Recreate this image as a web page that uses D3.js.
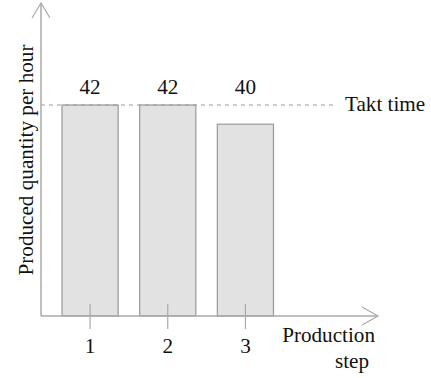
<!DOCTYPE html>
<html>
<head>
<meta charset="utf-8">
<script src="https://cdn.jsdelivr.net/npm/d3@7"></script>
<style>
html,body{margin:0;padding:0;background:#fff;}
svg{display:block;}
</style>
</head>
<body>
<svg id="chart" width="431" height="378"></svg>
<script>
const categories = ["1", "2", "3"];
const values = [42, 42, 40];
const taktTime = 42;
const yLabel = "Produced quantity per hour";
const xLabel = ["Production", "step"];
const taktLabel = "Takt time";

// pick first installed serif font
const ctx = document.createElement("canvas").getContext("2d");
function w(font, s) { ctx.font = "20px " + font; return ctx.measureText(s).width; }
const probe = "Produced quantity per hour mmmwwwiiilll";
const candidates = ["Liberation Serif", "DejaVu Serif", "Tinos", "Times New Roman", "Noto Serif", "FreeSerif", "Nimbus Roman", "Times"];
let chosen = null;
for (const c of candidates) {
  const a = w(`'${c}', monospace`, probe), b = w("monospace", probe);
  const a2 = w(`'${c}', sans-serif`, probe), b2 = w("sans-serif", probe);
  if (Math.abs(a - b) > 0.5 && Math.abs(a2 - b2) > 0.5) { chosen = c; break; }
}
const fontFamily = chosen ? `'${chosen}', serif` : "'Liberation Sans', 'DejaVu Sans', sans-serif";
const baseSize = 20;
const measured = w(fontFamily, yLabel);
const fontSize = Math.max(14, Math.min(22, baseSize * 231 / measured));

const svg = d3.select("#chart");
const axisColor = "#aaaaaa";

const x0 = 41, xEnd = 378, yBase = 316, yTop = 3;

const x = d3.scaleBand()
  .domain(categories)
  .range([62, 273.5])
  .paddingInner(0.277)
  .paddingOuter(0);

const y = d3.scaleLinear()
  .domain([20, 42])
  .range([yBase, 105]);

function txt(sel) {
  return sel.attr("font-family", fontFamily).attr("font-size", fontSize).attr("fill", "#111");
}

// bars
svg.selectAll("rect.bar")
  .data(values)
  .enter().append("rect")
  .attr("class", "bar")
  .attr("x", (d, i) => x(categories[i]))
  .attr("width", x.bandwidth())
  .attr("y", d => y(d))
  .attr("height", d => yBase - y(d))
  .attr("fill", "#e2e2e2")
  .attr("stroke", "#999999")
  .attr("stroke-width", 1.2);

// takt line
svg.append("line")
  .attr("x1", x0).attr("x2", 334)
  .attr("y1", y(taktTime)).attr("y2", y(taktTime))
  .attr("stroke", "#999999")
  .attr("stroke-width", 1)
  .attr("stroke-dasharray", "4,4");

txt(svg.append("text"))
  .attr("x", 345).attr("y", y(taktTime) + 6)
  .text(taktLabel);

// value labels
txt(svg.selectAll("text.val")
  .data(values)
  .enter().append("text"))
  .attr("class", "val")
  .attr("x", (d, i) => x(categories[i]) + x.bandwidth() / 2)
  .attr("y", d => y(taktTime) - 11)
  .attr("text-anchor", "middle")
  .text(d => d);

// axes
svg.append("line")
  .attr("x1", x0).attr("x2", x0)
  .attr("y1", yBase).attr("y2", yTop)
  .attr("stroke", axisColor).attr("stroke-width", 1.5);
svg.append("path")
  .attr("d", `M${x0-9},${yTop+15}L${x0},${yTop}L${x0+9},${yTop+15}`)
  .attr("fill", "none").attr("stroke", axisColor).attr("stroke-width", 1.2);

svg.append("line")
  .attr("x1", x0).attr("x2", xEnd)
  .attr("y1", yBase).attr("y2", yBase)
  .attr("stroke", axisColor).attr("stroke-width", 1.5);
svg.append("path")
  .attr("d", `M${xEnd-16},${yBase-9}L${xEnd},${yBase}L${xEnd-16},${yBase+9}`)
  .attr("fill", "none").attr("stroke", axisColor).attr("stroke-width", 1.2);

// ticks
svg.selectAll("line.tick")
  .data(categories)
  .enter().append("line")
  .attr("class", "tick")
  .attr("x1", d => x(d) + x.bandwidth() / 2)
  .attr("x2", d => x(d) + x.bandwidth() / 2)
  .attr("y1", yBase - 12).attr("y2", yBase + 13)
  .attr("stroke", axisColor).attr("stroke-width", 1.2);

txt(svg.selectAll("text.tl")
  .data(categories)
  .enter().append("text"))
  .attr("class", "tl")
  .attr("x", d => x(d) + x.bandwidth() / 2)
  .attr("y", 353)
  .attr("text-anchor", "middle")
  .text(d => d);

// x label
txt(svg.append("text"))
  .attr("x", 375).attr("y", 342)
  .attr("text-anchor", "end")
  .text(xLabel[0]);
txt(svg.append("text"))
  .attr("x", 369).attr("y", 368)
  .attr("text-anchor", "end")
  .text(xLabel[1]);

// y label
txt(svg.append("text"))
  .attr("transform", "translate(33,160) rotate(-90)")
  .attr("text-anchor", "middle")
  .text(yLabel);
</script>
</body>
</html>
